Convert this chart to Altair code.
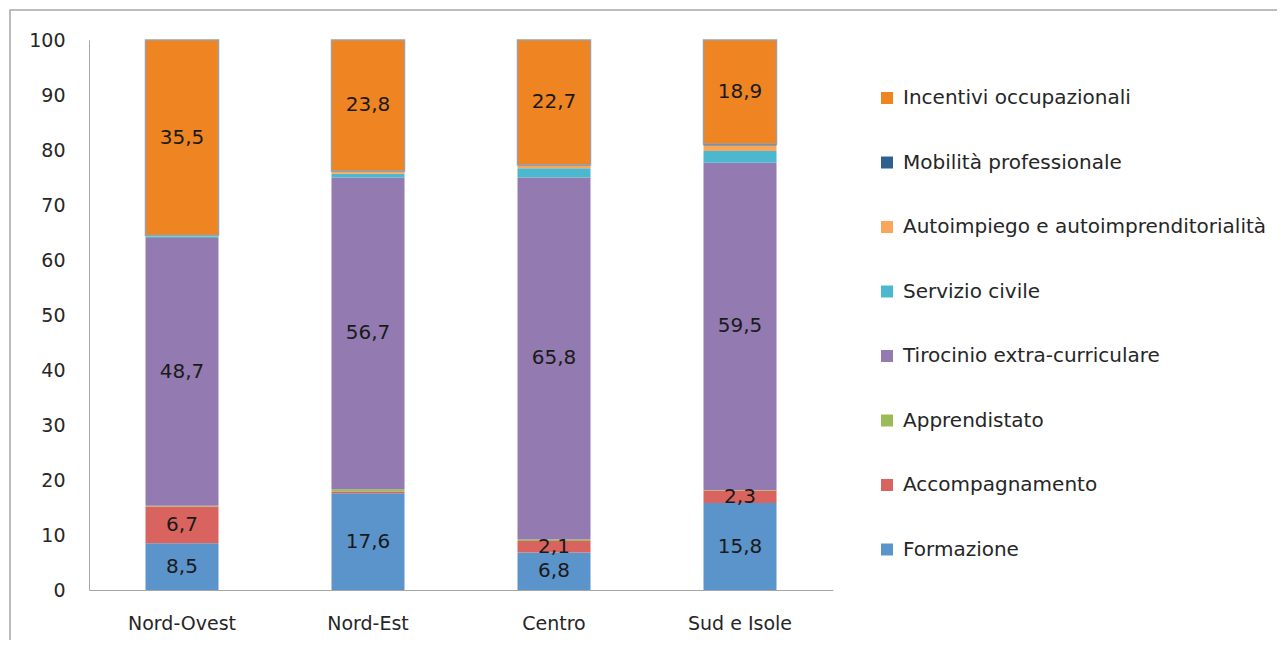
import altair as alt
import pandas as pd

categories = ["Nord-Ovest", "Nord-Est", "Centro", "Sud e Isole"]
series = ["Formazione", "Accompagnamento", "Apprendistato", "Tirocinio extra-curriculare",
          "Servizio civile", "Autoimpiego e autoimprenditorialità", "Mobilità professionale",
          "Incentivi occupazionali"]
labelled_series = ["Formazione", "Accompagnamento", "Tirocinio extra-curriculare",
                   "Incentivi occupazionali"]
formazione = [8.5, 17.6, 6.8, 15.8]
accompagnamento = [6.7, 0.3, 2.1, 2.3]
apprendistato = [0.1, 0.4, 0.3, 0.1]
tirocinio = [48.7, 56.7, 65.8, 59.5]
servizio_civile = [0.3, 0.7, 1.7, 2.1]
autoimpiego = [0.2, 0.4, 0.5, 1.0]
mobilita = [0.0, 0.1, 0.1, 0.3]
incentivi = [35.5, 23.8, 22.7, 18.9]
colors = ["#5B93CB", "#D9645F", "#9BBB59", "#937AB0", "#4BB8CF", "#F9A65A", "#2E6190", "#EE8422"]
y_ticks = [0, 10, 20, 30, 40, 50, 60, 70, 80, 90, 100]

values = [formazione, accompagnamento, apprendistato, tirocinio, servizio_civile,
          autoimpiego, mobilita, incentivi]
rows = []
for si, (s, vals) in enumerate(zip(series, values)):
    for c, v in zip(categories, vals):
        rows.append({"cat": c, "serie": s, "value": v, "idx": si,
                     "show": (s in labelled_series) and v >= 1})
df = pd.DataFrame(rows)

FONT = "DejaVu Sans"
TXT = "#262626"

base = alt.Chart(df).transform_stack(
    stack="value", groupby=["cat"], sort=[alt.SortField("idx", order="ascending")],
    as_=["y0", "y1"]
).transform_calculate(
    mid="(datum.y0 + datum.y1) / 2",
    label="replace(format(datum.value, '.1f'), '.', ',')"
)

bars = base.mark_bar(size=73).encode(
    x=alt.X("cat:N", sort=categories, title=None,
            scale=alt.Scale(paddingInner=0.6, paddingOuter=0.3),
            axis=alt.Axis(labelAngle=0, ticks=False, domainColor="#A6A6A6",
                          labelFont=FONT, labelFontSize=19, labelColor=TXT,
                          labelPadding=24)),
    y=alt.Y("y0:Q", title=None, scale=alt.Scale(domain=[0, 100], nice=False),
            axis=alt.Axis(values=y_ticks, grid=False, ticks=False, domainColor="#A6A6A6",
                          labelFont=FONT, labelFontSize=19, labelColor=TXT,
                          labelPadding=24)),
    y2="y1:Q",
    color=alt.Color("serie:N", sort=series,
                    scale=alt.Scale(domain=series, range=colors),
                    legend=alt.Legend(title=None, orient="none", legendX=788, legendY=48,
                                      symbolType="square", symbolSize=144, symbolStrokeWidth=0,
                                      labelFont=FONT, labelFontSize=20, labelColor=TXT,
                                      labelLimit=0, rowPadding=44.5, labelOffset=6,
                                      values=list(reversed(series)))),
    stroke=alt.condition(alt.datum.serie == "Incentivi occupazionali",
                         alt.value("#A0A0A0"), alt.value(None)),
    strokeWidth=alt.value(1.5),
)

labels = base.transform_filter("datum.show").mark_text(
    font=FONT, fontSize=20, color="#1a1a1a"
).encode(
    x=alt.X("cat:N", sort=categories),
    y=alt.Y("mid:Q"),
    text="label:N",
)

frame = alt.Chart(pd.DataFrame({"a": [0]})).mark_rect(
    fill=None, stroke="#A6A6A6", strokeWidth=1.5
).encode(
    x=alt.value(-79), x2=alt.value(1300), y=alt.value(-30), y2=alt.value(700)
)

chart = alt.layer(frame, bars, labels).properties(
    width=744, height=550,
    autosize=alt.AutoSizeParams(type="none"),
    padding={"left": 81, "top": 32, "right": 444, "bottom": 50},
).configure_view(stroke=None)

chart.save("out.html", embed_options={"renderer": "svg", "actions": False})
